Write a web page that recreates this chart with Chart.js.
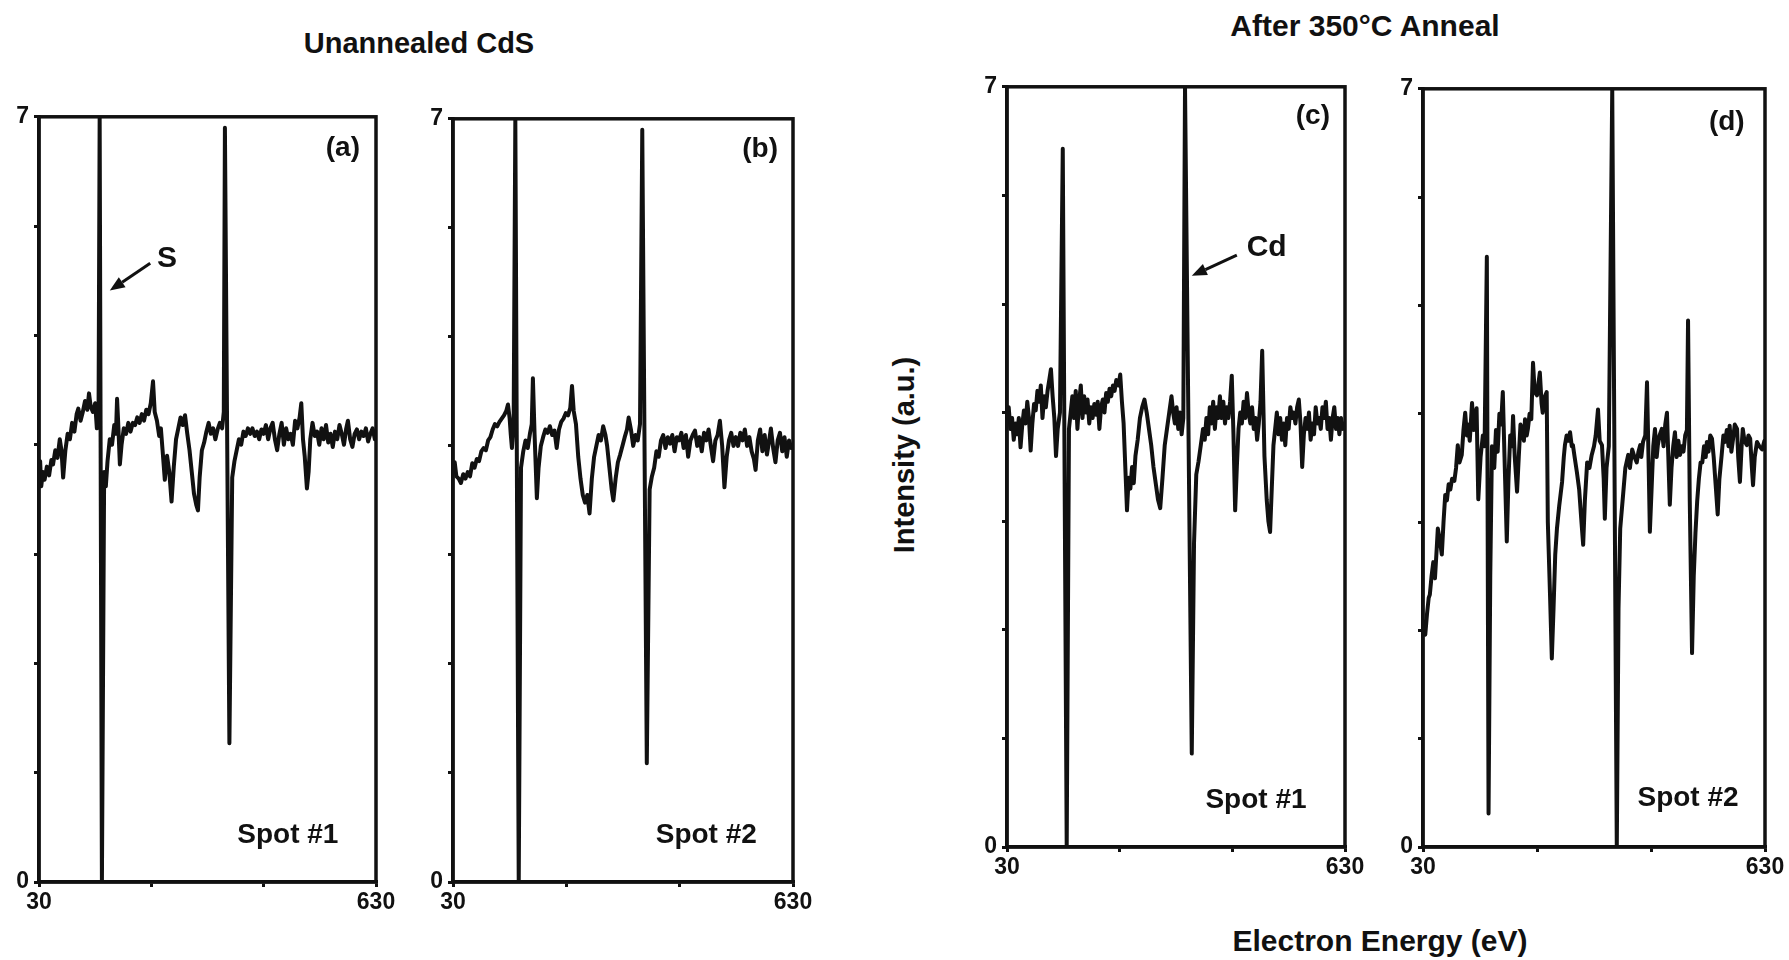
<!DOCTYPE html>
<html>
<head>
<meta charset="utf-8">
<script src="https://cdn.jsdelivr.net/npm/chart.js@4.4.0/dist/chart.umd.min.js"></script>
<style>
  body { margin: 0; background: #fff; width: 1789px; height: 960px; overflow: hidden; position: relative; }
  canvas { position: absolute; }
  .txt { position: absolute; font-family: "Liberation Sans", Arial, sans-serif; font-weight: bold; color: #111; white-space: nowrap; transform: translate(-50%, -50%); }
</style>
</head>
<body>
<div class="txt" style="left:419px; top:43px; font-size:29px;">Unannealed CdS</div>
<div class="txt" style="left:1365px; top:26px; font-size:30px;">After 350°C Anneal</div>
<div class="txt" style="left:904px; top:455px; font-size:29px; transform: translate(-50%, -50%) rotate(-90deg);">Intensity (a.u.)</div>
<div class="txt" style="left:1380px; top:941px; font-size:30px;">Electron Energy (eV)</div>

<canvas id="pa" width="395" height="824" style="left:5px; top:98px;"></canvas>
<canvas id="pb" width="398" height="822" style="left:419px; top:100px;"></canvas>
<canvas id="pc" width="396" height="819" style="left:973px; top:68px;"></canvas>
<canvas id="pd" width="400" height="817" style="left:1389px; top:70px;"></canvas>

<script>
// ejes comunes
var xTicks = [30, 230, 430, 630];
var yTicks = [0, 1, 2, 3, 4, 5, 6, 7];
var xLabeled = [30, 630];
var yLabeled = [0, 7];

// (a) sin recocer, punto 1
var energyA = [32,34,37,40,44,48,52,55,59,63,67,70,73,77,81,85,89,93,97,100,104,108,112,116,119,122,126,130,133,136,138,142,146,149,152,156,160,164,167,169,171,174,177,181,185,189,193,197,201,205,209,213,217,221,225,229,233,236,240,244,247,250,254,258,262,266,270,274,278,282,286,290,294,298,302,306,310,313,316,320,324,328,332,336,340,344,348,352,356,359,361,369,374,378,382,386,390,394,398,402,406,410,414,418,422,426,430,434,438,442,446,450,454,458,462,466,470,474,478,482,486,490,494,497,500,503,507,510,513,517,521,525,529,533,537,541,545,549,553,557,561,565,569,573,577,580,584,588,592,596,600,604,608,612,616,620,624,628];
var intensityA = [3.85,3.62,3.75,3.68,3.8,3.72,3.86,3.82,3.95,3.88,4.05,3.95,3.7,3.95,4.1,4.05,4.2,4.12,4.28,4.33,4.22,4.3,4.4,4.32,4.47,4.35,4.3,4.38,4.15,4.25,7,0,3.75,3.62,3.85,4.05,4.0,4.18,4.1,4.42,4.2,3.82,4.0,4.15,4.1,4.2,4.12,4.2,4.18,4.25,4.2,4.28,4.22,4.32,4.28,4.38,4.58,4.3,4.22,4.08,4.15,3.95,3.68,3.9,3.75,3.48,3.8,4.05,4.15,4.25,4.18,4.27,4.1,3.95,3.75,3.55,3.45,3.4,3.7,3.95,4.02,4.12,4.2,4.1,4.15,4.05,4.14,4.2,4.15,4.3,6.9,1.27,3.7,3.85,3.95,4.05,4.0,4.12,4.08,4.15,4.1,4.15,4.08,4.12,4.05,4.14,4.1,4.18,4.05,4.15,4.2,4.05,3.95,4.1,4.2,4.0,4.15,4.05,4.1,4.0,4.22,4.15,4.25,4.38,4.05,3.9,3.6,3.75,4.05,4.2,4.08,4.12,4.0,4.15,4.05,4.18,4.02,4.1,3.98,4.12,4.05,4.18,4.1,4.0,4.15,4.22,4.05,3.98,4.1,4.14,4.05,4.12,4.08,4.15,4.03,4.1,4.15,4.05];

// (b) sin recocer, punto 2
var energyB = [33,36,40,44,48,52,56,60,64,68,72,76,80,84,88,92,96,100,104,108,112,116,120,124,127,130,132,134,137,140,146,150,154,158,162,166,169,171,174,178,181,185,189,193,197,201,205,209,213,217,221,225,229,233,237,240,243,247,251,255,259,263,267,271,275,279,283,287,291,295,299,302,306,310,313,317,321,325,329,333,337,340,344,348,352,356,360,364,372,377,381,385,389,393,397,401,405,409,413,417,421,425,429,433,437,441,445,449,453,457,461,465,469,473,477,481,485,489,493,497,501,505,509,513,517,521,525,529,533,537,541,545,549,553,557,561,564,568,572,576,580,584,588,591,595,599,603,607,611,615,619,623,627];
var intensityB = [3.85,3.72,3.7,3.66,3.74,3.7,3.76,3.72,3.84,3.8,3.88,3.86,3.95,3.98,3.96,4.05,4.08,4.15,4.2,4.18,4.22,4.25,4.28,4.32,4.38,4.25,4.1,3.98,4.2,7,0,3.8,3.95,4.05,3.98,4.12,4.2,4.62,4.1,3.52,3.8,4.0,4.08,4.15,4.12,4.18,4.1,4.14,3.98,4.15,4.22,4.25,4.3,4.28,4.35,4.55,4.32,4.2,3.9,3.7,3.55,3.48,3.55,3.38,3.7,3.9,4.0,4.1,4.05,4.18,4.1,4.0,3.8,3.6,3.5,3.7,3.85,3.92,4.0,4.08,4.15,4.26,4.15,4.0,4.1,4.05,4.2,6.9,1.09,3.6,3.72,3.8,3.95,3.9,4.05,4.1,3.98,4.08,4.02,4.1,3.95,4.08,4.05,4.12,3.98,4.1,3.9,4.05,4.1,4.14,4.0,4.08,3.95,4.12,4.05,4.15,4.0,3.86,4.05,4.1,4.23,4.0,3.62,3.9,4.05,4.12,4.0,4.08,4.0,4.12,4.05,4.15,4.0,4.08,3.95,3.88,3.78,4.05,4.15,3.95,4.1,3.92,4.05,4.16,3.98,3.85,4.05,4.12,3.95,4.08,3.9,4.05,3.98];

// (c) 350 C, punto 1
var energyC = [33,36,39,42,45,48,51,54,57,60,63,66,69,72,75,78,81,84,87,90,93,96,99,102,105,108,111,114,117,120,124,129,136,140,143,146,149,152,155,158,161,164,167,170,173,176,179,182,185,188,191,194,197,200,203,206,209,212,215,218,221,224,228,231,234,237,240,243,246,249,252,255,258,262,266,270,274,278,282,286,290,294,298,302,306,310,314,318,322,325,328,331,334,337,340,343,346,358,362,366,370,374,378,381,384,387,390,393,396,399,402,405,408,411,414,417,420,423,426,429,432,435,438,441,444,447,450,453,456,459,462,465,468,471,474,477,480,483,487,491,494,497,500,503,506,509,512,515,518,521,524,527,530,533,536,539,542,545,548,551,554,557,560,563,566,569,572,575,578,581,584,587,590,593,596,599,602,605,608,611,614,617,620,623,626,629];
var intensityC = [4.05,3.85,3.95,3.75,3.9,3.8,3.95,3.68,3.88,4.02,3.9,4.1,3.95,3.65,3.9,4.08,4.02,4.2,4.1,4.25,3.95,4.15,4.05,4.2,4.3,4.4,4.15,3.95,3.6,3.85,4.0,6.43,0,3.85,4.0,4.15,3.95,4.2,3.85,4.1,4.25,3.95,4.15,4.0,4.12,3.9,4.05,3.95,4.08,3.98,4.1,3.85,4.05,4.12,4.0,4.18,4.1,4.22,4.15,4.25,4.2,4.3,4.25,4.35,4.1,3.9,3.5,3.1,3.4,3.3,3.5,3.35,3.6,3.75,3.95,4.05,4.12,4.0,3.85,3.7,3.5,3.35,3.2,3.12,3.4,3.7,3.85,4.0,4.15,4.0,3.9,4.05,3.85,4.0,3.8,3.95,7,0.86,2.8,3.43,3.55,3.7,3.85,3.75,3.95,3.8,4.05,3.9,4.1,3.85,4.05,3.95,4.15,3.95,4.1,3.9,4.05,3.95,4.1,4.34,3.8,3.1,3.5,3.85,4.0,3.9,4.1,3.95,4.18,4.0,3.9,4.05,3.85,3.95,3.75,3.9,4.1,4.57,3.6,3.2,3.0,2.9,3.3,3.7,3.85,4.0,3.8,3.95,3.75,3.9,3.7,3.95,3.85,4.05,3.95,4.0,3.9,4.05,4.12,3.9,3.5,3.8,3.95,3.85,4.0,3.75,3.9,3.8,4.05,3.9,3.95,3.85,4.05,3.95,4.1,3.85,3.95,3.75,3.95,4.05,3.85,3.95,3.8,3.95,3.85,3.9];

// (d) 350 C, punto 2
var energyD = [32,34,37,40,42,45,48,51,54,56,59,63,66,69,72,75,78,81,85,88,91,94,98,101,104,107,109,112,116,119,121,124,127,131,135,138,142,145,148,151,155,158,161,164,167,170,173,177,180,183,186,188,191,195,198,201,204,207,209,212,214,217,220,223,226,230,233,235,238,240,243,247,249,253,256,259,262,265,269,274,277,279,282,285,288,291,293,296,300,304,308,311,314,318,322,326,330,333,337,340,344,347,349,352,356,362,370,373,376,381,385,390,393,397,401,405,408,411,413,416,420,423,426,428,431,434,437,440,442,445,449,452,455,458,461,463,466,469,472,475,478,481,484,487,490,493,495,498,502,505,508,511,514,517,520,523,526,528,531,534,537,540,544,547,550,554,557,560,563,566,568,571,574,577,581,583,586,589,591,594,598,601,604,607,609,612,616,620,625,629];
var intensityD = [2.08,1.96,2.15,2.3,2.33,2.5,2.63,2.48,2.75,2.94,2.85,2.7,3.0,3.25,3.2,3.35,3.3,3.4,3.38,3.5,3.71,3.55,3.62,3.85,4.01,3.8,3.9,3.75,4.1,3.85,3.95,4.05,3.21,3.6,3.8,3.7,5.45,0.31,2.5,3.7,3.5,3.85,3.65,4.0,3.9,4.2,3.6,2.82,3.4,3.8,3.7,3.98,3.6,3.28,3.6,3.9,3.86,3.75,3.95,3.8,3.86,4.0,3.95,4.47,4.2,4.17,4.3,4.38,4.1,4.01,4.15,4.2,3.0,2.3,1.74,2.2,2.7,2.94,3.15,3.37,3.6,3.71,3.8,3.75,3.83,3.7,3.71,3.6,3.46,3.3,3.0,2.79,3.2,3.55,3.5,3.62,3.7,3.8,4.04,3.75,3.71,3.4,3.03,3.5,3.7,7,0,2.2,2.94,3.25,3.5,3.62,3.5,3.67,3.6,3.55,3.65,3.71,3.6,3.74,3.8,4.29,3.5,2.91,3.3,3.7,3.86,3.6,3.71,3.8,3.86,3.7,3.9,4.01,3.5,3.16,3.5,3.7,3.83,3.6,3.75,3.62,3.7,3.65,3.8,3.85,4.86,3.2,1.79,2.5,2.9,3.19,3.4,3.55,3.55,3.7,3.6,3.74,3.65,3.8,3.77,3.6,3.3,3.07,3.4,3.62,3.8,3.74,3.85,3.7,3.89,3.65,3.77,3.9,3.86,3.6,3.37,3.7,3.86,3.75,3.71,3.8,3.77,3.5,3.34,3.6,3.74,3.7,3.67,3.75];

var fuente = '"Liberation Sans", Arial, sans-serif';
var tinta = '#111';

// marco completo alrededor del area del grafico
var marco = {
    id: 'marco',
    afterDatasetsDraw: function(chart) {
        var a = chart.chartArea, ctx = chart.ctx;
        ctx.save();
        ctx.strokeStyle = tinta;
        ctx.lineWidth = 3.5;
        ctx.strokeRect(a.left, a.top, a.right - a.left, a.bottom - a.top);
        ctx.restore();
    }
};

// textos y flechas dentro de cada panel
var notas = {
    id: 'notas',
    afterDraw: function(chart, args, opts) {
        var ctx = chart.ctx, sx = chart.scales.x, sy = chart.scales.y;
        ctx.save();
        ctx.fillStyle = tinta;
        ctx.strokeStyle = tinta;
        ctx.textAlign = 'center';
        ctx.textBaseline = 'middle';
        (opts.textos || []).forEach(function(t) {
            ctx.font = 'bold ' + t.size + 'px ' + fuente;
            ctx.fillText(t.text, sx.getPixelForValue(t.x), sy.getPixelForValue(t.y));
        });
        (opts.flechas || []).forEach(function(f) {
            var x1 = sx.getPixelForValue(f.from[0]), y1 = sy.getPixelForValue(f.from[1]);
            var x2 = sx.getPixelForValue(f.to[0]), y2 = sy.getPixelForValue(f.to[1]);
            var ang = Math.atan2(y2 - y1, x2 - x1);
            var L = 15, W = 6;
            var bx = x2 - L * Math.cos(ang), by = y2 - L * Math.sin(ang);
            ctx.lineWidth = 3;
            ctx.beginPath();
            ctx.moveTo(x1, y1);
            ctx.lineTo(bx, by);
            ctx.stroke();
            ctx.beginPath();
            ctx.moveTo(x2, y2);
            ctx.lineTo(bx + W * Math.sin(ang), by - W * Math.cos(ang));
            ctx.lineTo(bx - W * Math.sin(ang), by + W * Math.cos(ang));
            ctx.closePath();
            ctx.fill();
        });
        ctx.restore();
    }
};

function crearPanel(id, energia, intensidad, textos, flechas) {
    if (energia.length !== intensidad.length) {
        throw new Error(id + ': ' + energia.length + ' vs ' + intensidad.length);
    }
    var puntos = energia.map(function(e, i) { return { x: e, y: intensidad[i] }; });
    var ctx = document.getElementById(id).getContext('2d');
    return new Chart(ctx, {
        type: 'scatter',
        data: {
            datasets: [{
                data: puntos,
                showLine: true,
                borderColor: tinta,
                borderWidth: 4,
                pointRadius: 0,
                tension: 0,
                borderJoinStyle: 'round',
                borderCapStyle: 'round'
            }]
        },
        options: {
            responsive: false,
            animation: false,
            layout: { padding: { top: 15, right: 24, left: 0, bottom: 0 } },
            plugins: {
                legend: { display: false },
                tooltip: { enabled: false },
                notas: { textos: textos, flechas: flechas }
            },
            scales: {
                x: {
                    type: 'linear',
                    min: 30,
                    max: 630,
                    afterBuildTicks: function(s) { s.ticks = xTicks.map(function(v) { return { value: v }; }); },
                    afterFit: function(s) { s.height = 40; },
                    grid: { drawOnChartArea: false, drawTicks: true, tickLength: 5, color: tinta, lineWidth: 3 },
                    border: { display: true, color: tinta, width: 3.5 },
                    ticks: {
                        autoSkip: false,
                        maxRotation: 0,
                        padding: 2,
                        color: tinta,
                        font: { family: fuente, size: 23, weight: 'bold' },
                        callback: function(v) { return xLabeled.indexOf(v) >= 0 ? String(v) : ''; }
                    }
                },
                y: {
                    type: 'linear',
                    min: 0,
                    max: 7,
                    afterBuildTicks: function(s) { s.ticks = yTicks.map(function(v) { return { value: v }; }); },
                    afterFit: function(s) { s.width = 34; },
                    grid: { drawOnChartArea: false, drawTicks: true, tickLength: 5, color: tinta, lineWidth: 3 },
                    border: { display: true, color: tinta, width: 3.5 },
                    ticks: {
                        autoSkip: false,
                        padding: 5,
                        color: tinta,
                        font: { family: fuente, size: 23, weight: 'bold' },
                        callback: function(v) { return yLabeled.indexOf(v) >= 0 ? String(v) : ''; }
                    }
                }
            }
        },
        plugins: [marco, notas]
    });
}

crearPanel('pa', energyA, intensityA,
    [{ text: '(a)', x: 571, y: 6.71, size: 28 }, { text: 'Spot #1', x: 473, y: 0.43, size: 28 }, { text: 'S', x: 258, y: 5.7, size: 30 }],
    [{ from: [228, 5.66], to: [156, 5.41] }]);
crearPanel('pb', energyB, intensityB,
    [{ text: '(b)', x: 572, y: 6.72, size: 28 }, { text: 'Spot #2', x: 477, y: 0.43, size: 28 }],
    []);
crearPanel('pc', energyC, intensityC,
    [{ text: '(c)', x: 573, y: 6.73, size: 28 }, { text: 'Spot #1', x: 472, y: 0.43, size: 28 }, { text: 'Cd', x: 491, y: 5.52, size: 30 }],
    [{ from: [438, 5.45], to: [358, 5.26] }]);
crearPanel('pd', energyD, intensityD,
    [{ text: '(d)', x: 563, y: 6.69, size: 28 }, { text: 'Spot #2', x: 495, y: 0.45, size: 28 }],
    []);
</script>
</body>
</html>
